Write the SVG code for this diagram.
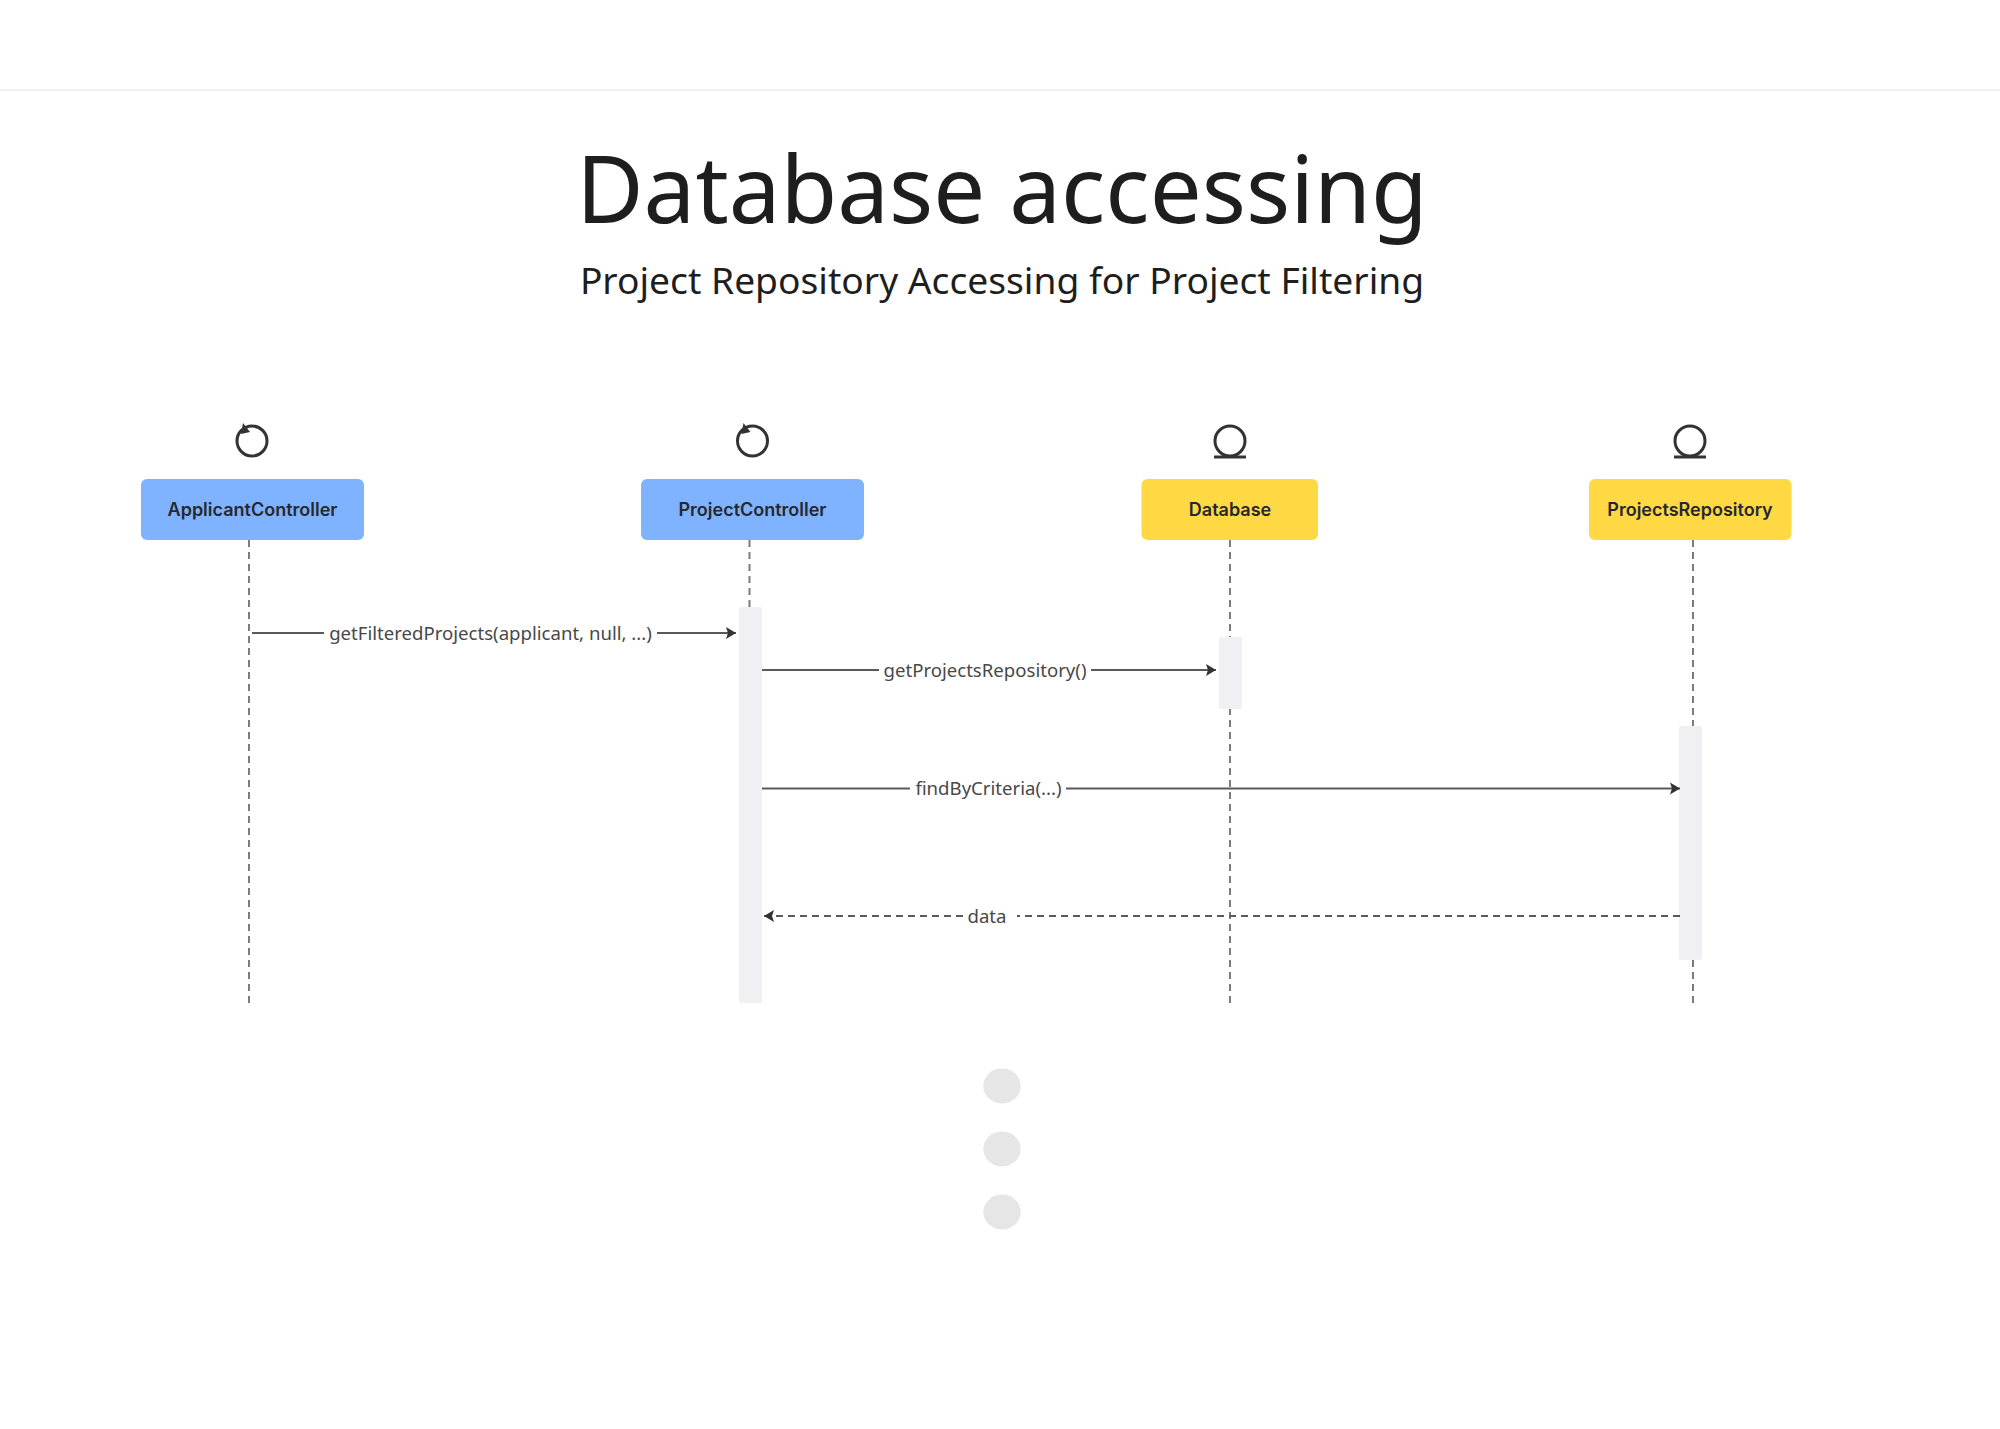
<svg xmlns="http://www.w3.org/2000/svg" width="2000" height="1429" viewBox="0 0 2000 1429">
<style>
.title{font-family:"Noto Sans","DejaVu Sans",sans-serif;fill:#1e1e1e;text-anchor:middle}
.box{stroke:none}
.blue{fill:#80b3ff}
.yellow{fill:#ffd943}
.name{font-family:"Inter","Roboto",sans-serif;font-weight:600;font-size:18px;fill:#26282e;text-anchor:middle}
.act{fill:#f0f0f3}
.life{fill:none;stroke:#7c7c7c;stroke-width:2;stroke-dasharray:7 5}
.msg{fill:none;stroke:#5a5a5a;stroke-width:2}
.ret{stroke-dasharray:7 5}
.lab{font-family:"Noto Sans","DejaVu Sans",sans-serif;font-size:18.6px;fill:#484848;text-anchor:middle}
.ico{fill:none;stroke:#333;stroke-width:3}
.dot{fill:#e6e6e6}
</style>
<defs>
<marker id="ah" markerUnits="userSpaceOnUse" markerWidth="12" markerHeight="14" refX="11" refY="7" orient="auto"><path d="M1 1 L11 7 L1 13 L3 7 Z" fill="#333"/></marker>
<g id="ctl"><circle cx="0" cy="441" r="15" class="ico"/><path d="M-9 423 L-2 432 L-11 434 Z" fill="#333"/></g>
<g id="ent"><ellipse cx="0" cy="441" rx="15" ry="15" class="ico"/><path d="M-16 457 H16" class="ico"/></g>
</defs>
<rect width="2000" height="1429" fill="#fff"/>
<path d="M0 90 H2000" stroke="#f0f0f0" stroke-width="2"/>
<g id="heading">
<text class="title" x="1002" y="222.500" font-size="92.300">Database accessing</text>
<text class="title" x="1002" y="294" font-size="37.200">Project Repository Accessing for Project Filtering</text>
</g>
<g id="lifelines">
<path class="life" d="M249 540 V1003"/>
<path class="life" d="M749.500 540 V607"/>
<path class="life" d="M1230 540 V1003" stroke-width="1.500"/>
<path class="life" d="M1693 540 V1003"/>
</g>
<g id="ApplicantController"><use href="#ctl" x="252"/><rect class="box blue" x="141" y="479" width="223" height="61" rx="6"/><text class="name" x="252.500" y="515.500">ApplicantController</text></g>
<g id="ProjectController"><use href="#ctl" x="752.500"/><rect class="box blue" x="641" y="479" width="223" height="61" rx="6"/><rect class="act" x="739" y="607" width="23" height="396" rx="2"/><text class="name" x="752.500" y="515.500">ProjectController</text></g>
<g id="Database"><use href="#ent" x="1230"/><rect class="box yellow" x="1141.500" y="479" width="176.500" height="61" rx="6"/><rect class="act" x="1219" y="637" width="23" height="72" rx="2"/><text class="name" x="1230" y="515.500">Database</text></g>
<g id="ProjectsRepository"><use href="#ent" x="1690"/><rect class="box yellow" x="1589" y="479" width="202.500" height="61" rx="6"/><rect class="act" x="1679" y="726" width="23" height="234" rx="2"/><text class="name" x="1690" y="515.500">ProjectsRepository</text></g>
<g id="connectors">
<path class="msg" d="M252 633 H324"/><path class="msg" d="M657 633 H736" marker-end="url(#ah)"/>
<path class="msg" d="M762 670 H879"/><path class="msg" d="M1091 670 H1216" marker-end="url(#ah)"/>
<path class="msg" d="M762 788.500 H910"/><path class="msg" d="M1066 788.500 H1680" marker-end="url(#ah)"/>
<path class="msg ret" d="M1680 916 H1017"/><path class="msg ret" d="M963 916 H764" marker-end="url(#ah)"/>
<text class="lab" x="490.500" y="639.500">getFilteredProjects(applicant, null, ...)</text>
<text class="lab" x="985" y="677">getProjectsRepository()</text>
<text class="lab" x="988.500" y="795">findByCriteria(...)</text>
<text class="lab" x="987" y="923">data</text>
</g>
<g id="ellipsis">
<ellipse class="dot" cx="1002" cy="1086" rx="18.700" ry="17.500"/>
<ellipse class="dot" cx="1002" cy="1149" rx="18.700" ry="17.500"/>
<ellipse class="dot" cx="1002" cy="1212" rx="18.700" ry="17.500"/>
</g>
</svg>
